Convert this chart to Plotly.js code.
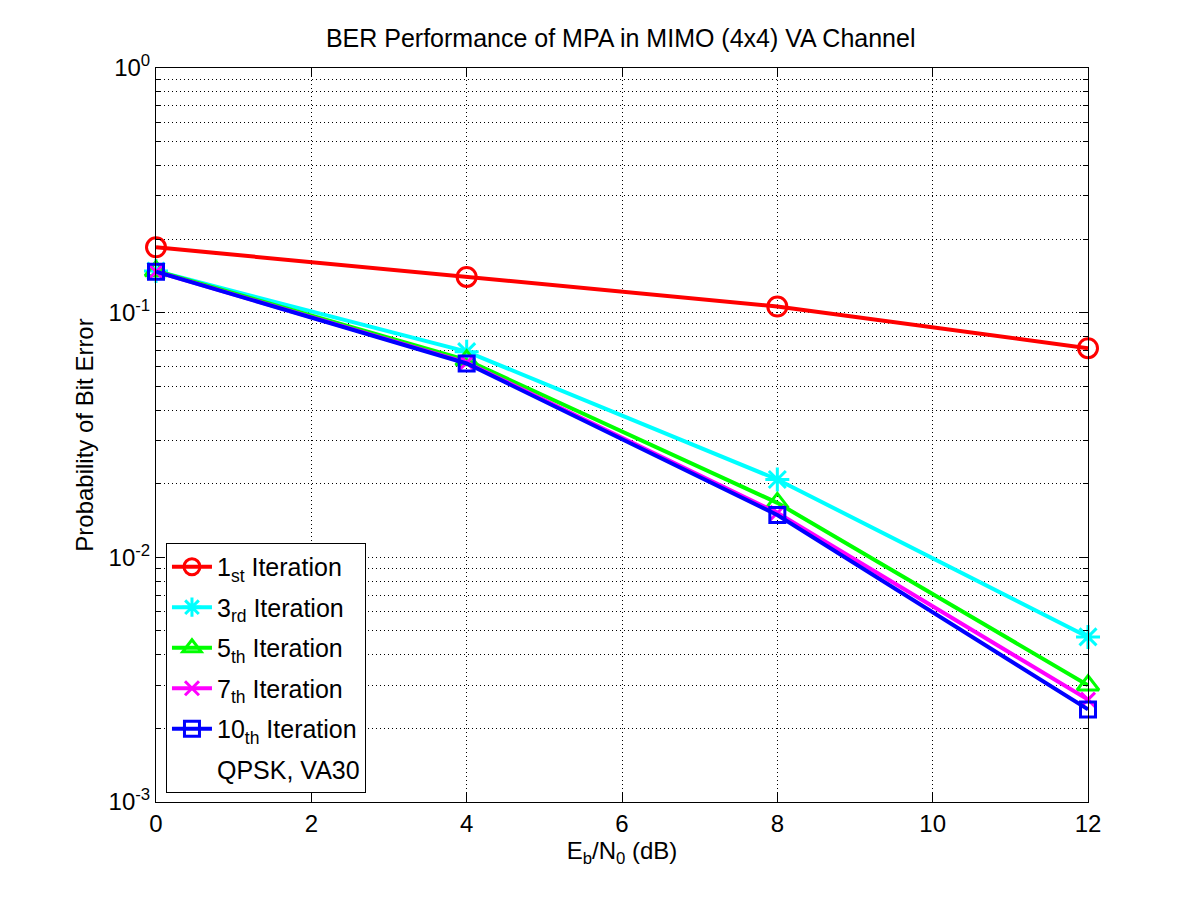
<!DOCTYPE html>
<html>
<head>
<meta charset="utf-8">
<script src="https://cdn.plot.ly/plotly-3.0.1.min.js"></script>
<style>
  body { margin: 0; background: #fff; }
  #ber-plot { width: 1201px; height: 901px; }
</style>
</head>
<body>
<div id="ber-plot"></div>
<script>
// Eb/N0 points (dB)
var snr = [0, 4, 8, 12];

// BER, one array per iteration count
var iter1  = [0.185, 0.140, 0.106, 0.0716];
var iter3  = [0.148, 0.0693, 0.0208, 0.00473];
var iter5  = [0.148, 0.0640, 0.0167, 0.00300];
var iter7  = [0.147, 0.0625, 0.0152, 0.00262];
var iter10 = [0.147, 0.0620, 0.0149, 0.00239];

var seriesNames = ['1<sub>st</sub> Iteration', '3<sub>rd</sub> Iteration', '5<sub>th</sub> Iteration',
                   '7<sub>th</sub> Iteration', '10<sub>th</sub> Iteration'];
var noteText = 'QPSK, VA30';

var yTickVals = [0.001, 0.01, 0.1, 1];
var yTickText = ['10<sup>-3</sup>', '10<sup>-2</sup>', '10<sup>-1</sup>', '10<sup>0</sup>'];
var xTickVals = [0, 2, 4, 6, 8, 10, 12];

function init_ber_plot(){
    var styles = [
        {color: '#ff0000', symbol: 'circle-open',        size: 19},
        {color: '#00ffff', symbol: 'asterisk-open',      size: 20},
        {color: '#00ff00', symbol: 'triangle-up-open',   size: 19},
        {color: '#ff00ff', symbol: 'x-thin-open',        size: 14},
        {color: '#0000ff', symbol: 'square-open',        size: 15}
    ];
    var ys = [iter1, iter3, iter5, iter7, iter10];

    var data = ys.map(function(y, i){
        return {
            x: snr,
            y: y,
            type: 'scatter',
            mode: 'lines+markers',
            name: seriesNames[i],
            legendgroup: 'g' + i,
            cliponaxis: false,          // keep the end markers whole on the frame
            line: {color: styles[i].color, width: 4},
            marker: {symbol: styles[i].symbol, size: styles[i].size,
                     color: styles[i].color, line: {color: styles[i].color, width: 3}}
        };
    });

    // legend-only line for the note under the entries
    data.push({
        x: [null], y: [null],
        type: 'scatter',
        mode: 'lines',
        name: noteText,
        legendgroup: 'note',
        line: {color: 'rgba(0,0,0,0)', width: 0},
        hoverinfo: 'skip'
    });

    var grid = '1px,3px';

    var layout = {
        width: 1201,
        height: 901,
        margin: {l: 156, r: 113, t: 68, b: 99},
        paper_bgcolor: '#ffffff',
        plot_bgcolor: '#ffffff',
        font: {family: 'Liberation Sans, Arial, sans-serif', size: 24, color: '#000'},
        title: {
            text: 'BER Performance of MPA in MIMO (4x4) VA Channel',
            font: {size: 25},
            x: 0.5168, xanchor: 'center',
            y: 0.958, yanchor: 'middle', yref: 'container'
        },
        showlegend: true,
        legend: {
            x: 0.0107, y: 0.0123, xanchor: 'left', yanchor: 'bottom',
            bordercolor: '#000', borderwidth: 1, bgcolor: '#fff',
            font: {size: 25},
            traceorder: 'grouped',
            tracegroupgap: 5,
            itemwidth: 40
        },
        xaxis: {
            range: [0, 12],
            tickvals: xTickVals,
            ticks: 'inside', ticklen: 9, tickcolor: '#000',
            showline: true, linecolor: '#000', linewidth: 1, mirror: 'ticks',
            showgrid: true, gridcolor: '#000', gridwidth: 1, griddash: grid,
            zeroline: false,
            title: {text: 'E<sub>b</sub>/N<sub>0</sub> (dB)', standoff: 6, font: {size: 24}}
        },
        yaxis: {
            type: 'log',
            range: [-3, 0],
            tickvals: yTickVals,
            ticktext: yTickText,
            ticks: 'inside', ticklen: 9, tickcolor: '#000',
            showline: true, linecolor: '#000', linewidth: 1, mirror: 'ticks',
            showgrid: true, gridcolor: '#000', gridwidth: 1, griddash: grid,
            zeroline: false,
            minor: {dtick: 'D1', ticks: 'inside', ticklen: 5, tickcolor: '#000',
                    showgrid: true, gridcolor: '#000', gridwidth: 1, griddash: grid},
            title: {text: 'Probability of Bit Error', standoff: 8, font: {size: 24}}
        }
    };

    var additional_param = {
        displayModeBar: false,          // plain picture, no toolbar
        staticPlot: true
    };

    var plotDiv = document.getElementById('ber-plot');
    if(plotDiv)
    {
        Plotly.newPlot('ber-plot', data, layout, additional_param);
    }
}

init_ber_plot();
</script>
</body>
</html>
